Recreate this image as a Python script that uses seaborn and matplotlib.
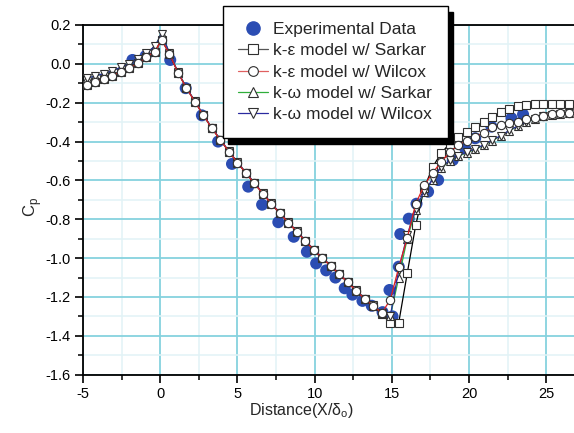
import matplotlib
matplotlib.use("Agg")
import matplotlib.pyplot as plt
import seaborn as sns
from matplotlib.lines import Line2D
from matplotlib.ticker import MultipleLocator, FormatStrFormatter

# ---------------- data ----------------
exp_x = [-1.8, -0.95, 0.65, 1.65, 2.7, 3.75, 4.65, 5.7, 6.6, 7.65, 8.65, 9.5,
         10.1, 10.75, 11.35, 11.95, 12.45, 13.1, 13.7, 14.4, 14.85, 15.05,
         15.45, 15.55, 16.1, 16.6, 17.35, 18.0, 18.95, 19.75, 20.4, 21.45,
         22.75, 23.5]
exp_cp = [0.02, 0.04, 0.02, -0.125, -0.265, -0.40, -0.515, -0.632, -0.725,
          -0.815, -0.89, -0.967, -1.027, -1.063, -1.10, -1.155, -1.188, -1.22,
          -1.245, -1.278, -1.164, -1.30, -1.044, -0.876, -0.797, -0.72, -0.658,
          -0.598, -0.495, -0.435, -0.383, -0.323, -0.28, -0.26]

model_x = [-4.75, -4.2, -3.65, -3.1, -2.55, -2.0, -1.45, -0.9, -0.35, 0.1,
           0.6, 1.15, 1.7, 2.25, 2.8, 3.35, 3.9, 4.45, 5.0, 5.55, 6.1, 6.65,
           7.2, 7.75, 8.3, 8.85, 9.4, 9.95, 10.5, 11.05, 11.6, 12.15, 12.7,
           13.25, 13.8, 14.35, 14.9, 15.45, 16.0, 16.55, 17.1, 17.65, 18.2,
           18.75, 19.3, 19.85, 20.4, 20.95, 21.5, 22.05, 22.6, 23.15, 23.7,
           24.25, 24.8, 25.35, 25.9, 26.45]

ke_sarkar = [-0.109, -0.092, -0.079, -0.062, -0.04, -0.023, 0.003, 0.034, 0.063, 0.123,
             0.05, -0.045, -0.125, -0.195, -0.265, -0.332, -0.392, -0.452, -0.508, -0.562,
             -0.615, -0.668, -0.72, -0.77, -0.817, -0.864, -0.912, -0.958, -1.0, -1.04,
             -1.083, -1.125, -1.168, -1.21, -1.245, -1.29, -1.332, -1.332, -1.078, -0.83,
             -0.64, -0.53, -0.46, -0.41, -0.375, -0.35, -0.325, -0.30, -0.272, -0.25,
             -0.232, -0.218, -0.212, -0.207, -0.206, -0.206, -0.206, -0.206]

ke_wilcox = [-0.109, -0.092, -0.079, -0.062, -0.04, -0.023, 0.003, 0.034, 0.063, 0.123,
             0.05, -0.045, -0.125, -0.195, -0.265, -0.332, -0.392, -0.452, -0.508, -0.562,
             -0.615, -0.668, -0.72, -0.77, -0.817, -0.864, -0.912, -0.958, -1.0, -1.04,
             -1.083, -1.125, -1.168, -1.21, -1.245, -1.282, -1.215, -1.048, -0.895, -0.72,
             -0.625, -0.56, -0.505, -0.455, -0.42, -0.395, -0.375, -0.355, -0.325, -0.313,
             -0.305, -0.297, -0.285, -0.277, -0.268, -0.26, -0.255, -0.252]

kw_sarkar = [-0.075, -0.062, -0.05, -0.035, -0.018, 0.0, 0.025, 0.055, 0.09, 0.155,
             0.055, -0.042, -0.122, -0.193, -0.263, -0.33, -0.39, -0.45, -0.506, -0.56,
             -0.613, -0.666, -0.718, -0.768, -0.815, -0.862, -0.91, -0.956, -0.998, -1.038,
             -1.081, -1.123, -1.166, -1.208, -1.243, -1.28, -1.30, -1.10, -0.90, -0.75,
             -0.66, -0.60, -0.535, -0.50, -0.475, -0.458, -0.44, -0.42, -0.395, -0.372,
             -0.345, -0.322, -0.30, -0.283, -0.27, -0.262, -0.256, -0.252]

kw_wilcox = [-0.075, -0.062, -0.05, -0.035, -0.018, 0.0, 0.025, 0.055, 0.09, 0.155,
             0.055, -0.042, -0.122, -0.193, -0.263, -0.33, -0.39, -0.45, -0.506, -0.56,
             -0.613, -0.666, -0.718, -0.768, -0.815, -0.862, -0.91, -0.956, -0.998, -1.038,
             -1.081, -1.123, -1.166, -1.208, -1.243, -1.28, -1.30, -1.06, -0.88, -0.745,
             -0.655, -0.595, -0.53, -0.497, -0.472, -0.455, -0.437, -0.417, -0.392, -0.37,
             -0.343, -0.32, -0.298, -0.282, -0.27, -0.262, -0.256, -0.252]

labels = ["Experimental Data", "k-ε model w/ Sarkar", "k-ε model w/ Wilcox",
          "k-ω model w/ Sarkar", "k-ω model w/ Wilcox"]

# ---------------- styling ----------------
sns.set_theme(style="ticks")
plt.rcParams["font.family"] = ["Liberation Sans", "DejaVu Sans"]
plt.rcParams["axes.linewidth"] = 1.3
plt.rcParams["axes.unicode_minus"] = False

EXP_BLUE = "#2b4db3"
EDGE = "#303030"

fig = plt.figure(figsize=(5.74, 4.33), dpi=100)
ax = fig.add_axes([83 / 574, 1 - 374.7 / 433, 1 - 83 / 574, (374.7 - 25) / 433])

ax.set_xlim(-5, 26.8)
ax.set_ylim(-1.6, 0.2)
ax.xaxis.set_major_locator(MultipleLocator(5))
ax.xaxis.set_minor_locator(MultipleLocator(2.5))
ax.yaxis.set_major_locator(MultipleLocator(0.2))
ax.yaxis.set_minor_locator(MultipleLocator(0.1))
ax.set_axisbelow(True)
ax.grid(which="major", color="#86d2de", lw=1.3)
ax.grid(which="minor", color="#e2f3f6", lw=1.1)
ax.tick_params(which="major", direction="out", length=6, width=1.2,
               labelsize=10.5, colors="black", pad=3)
ax.tick_params(which="minor", direction="out", length=3.5, width=1.1, colors="black")
ax.yaxis.set_major_formatter(FormatStrFormatter("%.1f"))
for s in ["left", "bottom", "top"]:
    ax.spines[s].set_color("black")
ax.spines["right"].set_visible(False)

# experimental data (drawn underneath the model markers)
sns.scatterplot(x=exp_x, y=exp_cp, ax=ax, color=EXP_BLUE, s=75,
                edgecolor="none", zorder=3, legend=False)

common = dict(ax=ax, sort=False, estimator=None, lw=0.9, markersize=6,
              markerfacecolor="white", markeredgecolor=EDGE, markeredgewidth=0.8,
              legend=False)
sns.lineplot(x=model_x, y=ke_sarkar, color="black", marker="s", zorder=4, **common)
sns.lineplot(x=model_x, y=kw_sarkar, color="#2fae3a", marker="^", zorder=5, **common)
sns.lineplot(x=model_x, y=kw_wilcox, color="#2a2aa0", marker="v", zorder=5, **common)
sns.lineplot(x=model_x, y=ke_wilcox, color="#e02020", marker="o", zorder=6, **common)

ax.set_xlabel(r"Distance(X/$\mathregular{\delta_o}$)", fontsize=11.5)
ax.xaxis.set_label_coords(0.444, -0.075)
ax.set_ylabel(r"C$_\mathregular{p}$", fontsize=12)
ax.yaxis.set_label_coords(-0.08, 0.48)

# legend
mk = dict(markerfacecolor="white", markeredgecolor=EDGE, markeredgewidth=0.8, markersize=7, lw=0.9)
handles = [
    Line2D([], [], ls="none", marker="o", color=EXP_BLUE, markersize=9.5),
    Line2D([], [], color="#555555", marker="s", **mk),
    Line2D([], [], color="#e06060", marker="o", **mk),
    Line2D([], [], color="#2fae3a", marker="^", **mk),
    Line2D([], [], color="#2a2aa0", marker="v", **mk),
]
leg = fig.legend(handles, labels, loc="upper left",
                 bbox_to_anchor=(222.7 / 574, 1 - 6 / 433),
                 fontsize=12.5, frameon=True, fancybox=False,
                 shadow={"ox": 4, "oy": -4, "color": "black", "alpha": 1},
                 borderpad=0.9, labelspacing=0.36, handlelength=1.7,
                 handletextpad=0.3, borderaxespad=0)
leg.get_frame().set_edgecolor("black")
leg.get_frame().set_linewidth(1.0)
leg.get_frame().set_facecolor("white")
leg.get_frame().set_alpha(1)
leg.set_zorder(10)

fig.savefig("out.png", dpi=100)
